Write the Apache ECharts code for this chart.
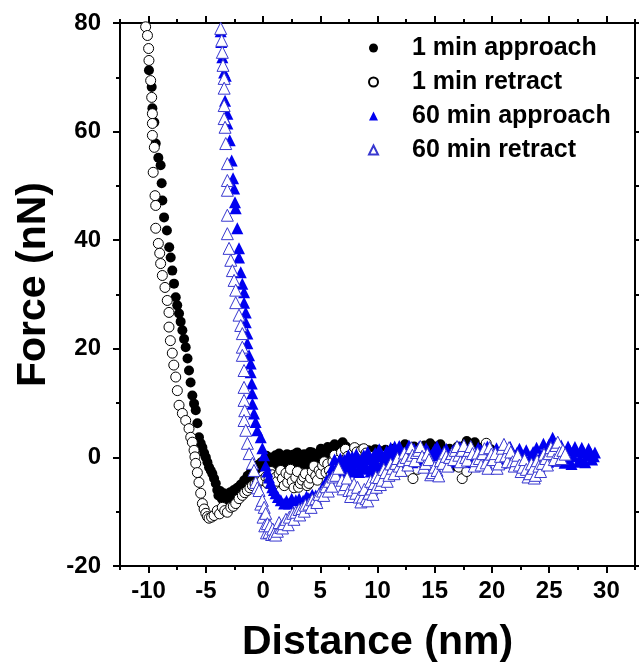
<!DOCTYPE html>
<html>
<head>
<meta charset="utf-8">
<script src="https://cdn.jsdelivr.net/npm/echarts@6/dist/echarts.min.js"></script>
<style>
  html, body { margin: 0; padding: 0; background: #fff; }
  #chart { width: 639px; height: 665px; }
</style>
</head>
<body>
<div id="chart"></div>
<script>
// series names (legend)
const seriesNames = ['1 min approach', '1 min retract', '60 min approach', '60 min retract'];

// major tick values on the x axis
const xMajorTicks = [-10, -5, 0, 5, 10, 15, 20, 25, 30];

// 1 min approach, [distance nm, force nN]
const approach1 = [
  [-9.97, 71.3], [-9.73, 68.2], [-9.67, 64.3], [-9.5, 61.7], [-9.38, 57.8], [-9.15, 55.2],
  [-8.95, 53.8], [-8.86, 50.5], [-8.8, 47.3], [-8.65, 44.2], [-8.4, 41.8], [-8.2, 38.7],
  [-8.07, 36.8], [-7.93, 34.4], [-7.78, 32.0], [-7.63, 29.5], [-7.5, 28.0], [-7.34, 26.5],
  [-7.2, 25.0], [-7.05, 23.4], [-6.9, 21.8], [-6.76, 20.3], [-6.6, 18.2], [-6.47, 16.0],
  [-6.33, 13.8], [-6.18, 11.4], [-6.03, 9.9], [-5.88, 8.7], [-5.74, 6.3], [-5.6, 3.7],
  [-5.45, 2.6], [-5.3, 1.8], [-5.15, 0.8], [-5.0, 0.0], [-4.86, -0.9], [-4.72, -1.8],
  [-4.57, -2.4], [-4.43, -3.0], [-4.28, -3.9], [-4.13, -4.8], [-4.0, -6.0], [-3.9, -7.0],
  [-3.75, -6.2], [-3.6, -7.6], [-3.45, -6.6], [-3.3, -7.8], [-3.15, -6.9], [-3.0, -7.5],
  [-2.85, -6.4], [-2.7, -7.2], [-2.55, -6.0], [-2.4, -6.8], [-2.25, -5.6], [-2.1, -6.2],
  [-1.95, -5.0], [-1.8, -5.4], [-1.65, -4.2], [-1.5, -4.6], [-1.35, -3.4], [-1.2, -3.7],
  [-1.05, -2.6], [-0.9, -2.9], [-0.75, -1.9], [-0.6, -2.2], [-0.45, -1.4], [-0.3, -1.7],
  [-0.15, -0.9], [0.0, -1.2], [0.15, -0.4], [0.3, 0.3], [0.4, -1.5], [0.5, -0.5],
  [0.65, -1.8], [0.8, 0.0], [0.9, -0.6], [1.0, -1.2], [1.1, 0.4], [1.25, -1.6], [1.4, 0.7],
  [1.5, 0.1], [1.6, -0.9], [1.7, 0.2], [1.85, -0.2], [2.0, -0.4], [2.1, 0.6], [2.2, -1.4],
  [2.3, 0.0], [2.45, -0.9], [2.6, 0.5], [2.7, -1.6], [2.86, 0.7], [2.9, -1.0], [3.0, 0.9],
  [3.1, 0.2], [3.25, -0.7], [3.4, -0.3], [3.5, -1.2], [3.6, 0.6], [3.7, 0.3], [3.85, -1.4],
  [4.0, 0.6], [4.1, 1.0], [4.2, -0.8], [4.3, 0.9], [4.45, 0.2], [4.6, 0.4], [4.7, -0.5],
  [4.8, -0.2], [4.9, 0.8], [5.05, 1.6], [5.2, 1.2], [5.35, 0.2], [5.5, 0.9], [5.65, 1.9],
  [5.8, 1.4], [5.95, 0.8], [6.1, 1.7], [6.25, 2.4], [6.4, 1.9], [6.6, 1.3], [6.8, 2.2],
  [6.95, 2.8], [7.1, 1.4], [7.25, 2.0], [7.4, 1.0], [7.55, 0.6], [7.7, 1.3], [8.0, 0.9],
  [8.3, 1.2], [8.6, 1.5], [8.9, 1.0], [9.2, 1.3], [9.5, 1.1], [9.8, 1.5], [10.1, 1.3],
  [10.4, 1.0], [10.7, 1.4], [11.0, 1.2], [11.4, 1.6], [11.8, 1.3], [12.2, 1.7], [12.4, 2.4],
  [12.6, 1.2], [13.0, 1.5], [13.2, 2.0], [13.4, 1.3], [13.8, 1.8], [14.1, 2.2], [14.4, 1.6],
  [14.6, 2.6], [14.8, 1.2], [15.0, 2.0], [15.2, 1.5], [15.5, 2.4], [15.7, 1.3], [16.0, -1.2],
  [16.1, 0.6], [16.3, 1.6], [16.5, -1.8], [16.8, 0.4], [17.0, 2.0], [17.2, 1.6], [17.4, 1.2],
  [17.6, 2.3], [17.8, 3.0], [18.0, 2.6], [18.3, 2.0], [18.5, 2.8], [18.7, 1.2], [18.9, 1.8],
  [19.1, 0.8], [19.5, 1.2], [19.9, 1.5], [20.3, 1.0]
];

// 1 min retract
const retract1 = [
  [-10.26, 79.3], [-10.1, 77.7], [-10.0, 75.3], [-9.97, 73.1], [-9.82, 69.4], [-9.73, 66.3],
  [-9.67, 63.3], [-9.67, 61.5], [-9.67, 59.3], [-9.5, 57.1], [-9.6, 52.5], [-9.44, 48.2],
  [-9.38, 46.4], [-9.38, 42.2], [-9.15, 39.4], [-9.03, 37.6], [-8.95, 35.7], [-8.8, 33.5],
  [-8.57, 31.3], [-8.37, 28.9], [-8.22, 26.7], [-8.22, 24.0], [-8.1, 21.5], [-7.93, 19.2],
  [-7.8, 17.0], [-7.63, 14.8], [-7.49, 12.3], [-7.34, 9.6], [-7.05, 8.1], [-6.76, 6.8],
  [-6.47, 5.3], [-6.32, 3.7], [-6.18, 2.8], [-6.03, 1.3], [-5.95, 0.1], [-5.88, -1.1],
  [-5.74, -2.8], [-5.6, -4.6], [-5.45, -6.6], [-5.3, -8.5], [-5.15, -9.5], [-5.0, -10.3],
  [-4.86, -10.9], [-4.72, -11.2], [-4.5, -11.0], [-4.28, -10.7], [-4.0, -9.8], [-3.8, -10.4],
  [-3.56, -9.2], [-3.35, -9.8], [-3.12, -10.1], [-2.82, -9.2], [-2.6, -9.0], [-2.39, -8.5],
  [-2.1, -7.6], [-1.81, -7.0], [-1.6, -6.5], [-1.37, -6.1], [-1.15, -5.6], [-0.93, -5.2],
  [-0.7, -4.9], [-0.5, -4.6], [-0.28, -4.4], [-0.06, -4.2], [0.25, -3.6], [0.4, -4.8],
  [0.52, -3.9], [0.7, -2.6], [0.8, -3.2], [0.95, -5.0], [1.1, -3.7], [1.25, -4.4],
  [1.4, -3.0], [1.55, -2.4], [1.69, -3.9], [1.85, -5.2], [2.0, -2.9], [2.15, -4.6],
  [2.27, -3.3], [2.4, -2.2], [2.55, -4.4], [2.7, -5.6], [2.86, -3.7], [3.0, -2.6],
  [3.1, -5.5], [3.25, -4.8], [3.4, -4.2], [3.55, -3.6], [3.7, -3.0], [3.85, -5.2],
  [4.0, -4.8], [4.15, -3.8], [4.3, -2.6], [4.45, -1.6], [4.6, -3.4], [4.75, -4.2],
  [4.9, -2.4], [5.05, -3.0], [5.2, -1.5], [5.35, -0.8], [5.5, -2.8], [5.65, -1.2],
  [5.8, -2.4], [5.95, -3.2], [6.1, -0.8], [6.25, 0.4], [6.4, -1.4], [6.55, -1.9],
  [6.7, -0.3], [6.85, 0.9], [7.0, -0.6], [7.2, 1.5], [7.4, 0.2], [7.6, -0.8], [7.8, 0.7],
  [8.0, 1.8], [8.2, 1.0], [8.4, -0.4], [8.6, 1.3], [8.8, 1.6], [9.0, 0.8], [9.4, 0.2],
  [9.8, -0.5], [10.2, -0.2], [10.6, 0.4], [11.0, -0.3], [11.5, -1.0], [12.0, -0.6],
  [12.5, -1.5], [12.8, -2.6], [13.1, -3.9], [13.5, -2.2], [13.9, -1.0], [14.3, -0.4],
  [14.8, 0.3], [15.2, -0.8], [15.7, 0.0], [16.2, -0.9], [16.6, -0.2], [17.1, -1.8],
  [17.4, -3.9], [17.8, -2.6], [18.2, -1.0], [18.6, 0.2], [19.1, 1.0], [19.5, 2.6],
  [20.0, 0.5], [20.5, -0.5], [21.0, 0.3]
];

// 60 min approach
const approach60 = [
  [-3.7, 78.5], [-3.65, 76.5], [-3.56, 73.7], [-3.4, 70.9], [-3.26, 70.3], [-3.32, 65.7],
  [-3.12, 63.3], [-3.12, 61.5], [-2.91, 58.4], [-2.74, 54.7], [-2.62, 51.4], [-2.53, 49.5],
  [-2.45, 47.0], [-2.39, 45.9], [-2.25, 42.2], [-2.1, 38.5], [-2.1, 36.8], [-1.95, 34.1],
  [-1.81, 32.0], [-1.66, 30.4], [-1.66, 28.5], [-1.51, 26.7], [-1.51, 24.9], [-1.37, 22.8],
  [-1.37, 21.0], [-1.22, 18.8], [-1.08, 17.3], [-1.08, 15.7], [-0.99, 13.6], [-0.95, 11.8],
  [-0.93, 9.9], [-0.79, 8.1], [-0.65, 6.5], [-0.5, 5.0], [-0.2, 3.7], [-0.06, 1.7],
  [0.09, 0.4], [0.23, -1.5], [0.38, -2.6], [0.52, -3.7], [0.66, -4.6], [0.81, -5.5],
  [0.95, -6.0], [1.1, -6.6], [1.3, -7.3], [1.55, -7.9], [1.84, -8.5], [2.05, -8.0],
  [2.27, -8.5], [2.5, -7.6], [2.86, -7.9], [3.15, -7.6], [3.5, -8.0], [3.8, -7.2],
  [4.0, -7.5], [4.3, -6.9], [4.6, -7.0], [4.9, -6.6], [5.2, -5.5], [5.5, -4.4],
  [5.77, -3.7], [6.06, -1.8], [6.1, -2.8], [6.25, -0.4], [6.4, -2.2], [6.5, -2.9],
  [6.64, -1.1], [6.75, -0.2], [6.9, -2.6], [7.0, -1.6], [7.1, -0.5], [7.2, -2.8],
  [7.3, -2.0], [7.45, 0.4], [7.6, -1.2], [7.7, -2.6], [7.8, 0.1], [7.9, -0.9], [8.0, -2.3],
  [8.15, 0.6], [8.3, -0.7], [8.4, -2.7], [8.5, -1.6], [8.65, -0.2], [8.8, 0.4], [8.9, -1.2],
  [9.0, -2.1], [9.15, 1.0], [9.3, -0.3], [9.4, -2.6], [9.5, -1.4], [9.65, 0.2], [9.8, 0.8],
  [9.9, -1.1], [10.0, -2.0], [10.15, 1.5], [10.3, 0.2], [10.4, -2.2], [10.5, -1.0],
  [10.65, 0.0], [10.8, 1.2], [10.9, -0.6], [11.0, -1.6], [11.15, 1.8], [11.3, 0.5],
  [11.4, -1.4], [11.5, 2.0], [11.65, 0.9], [11.8, -0.4], [11.9, 2.1], [12.0, 1.0],
  [12.15, -1.3], [12.3, -0.8], [12.45, 0.3], [12.6, 1.4], [12.75, 2.2], [12.9, 0.3],
  [13.05, -0.9], [13.2, 1.6], [13.35, 0.7], [13.5, -0.2], [13.65, 2.0], [13.8, 1.0],
  [13.95, -0.6], [14.1, 0.2], [14.25, 1.7], [14.4, 1.2], [14.55, -0.5], [14.7, 0.4],
  [14.85, 0.9], [15.0, 1.5], [15.2, 2.0], [15.4, 0.6], [15.6, -0.4], [15.8, 1.1],
  [16.0, 1.6], [16.2, 0.0], [16.4, -0.8], [16.6, 1.3], [16.8, 0.6], [17.0, 0.4],
  [17.2, 1.9], [17.4, 1.0], [17.6, -0.8], [17.8, -0.3], [18.0, 1.6], [18.2, 0.9],
  [18.4, -0.9], [18.6, 0.2], [18.8, 1.8], [19.0, 1.4], [19.2, -0.5], [19.4, 0.0],
  [19.6, 2.0], [19.8, 1.0], [20.0, 0.3], [20.2, -0.4], [20.4, 1.7], [20.6, 0.8],
  [20.8, -1.0], [21.0, -0.2], [21.2, 0.2], [21.4, 1.2], [21.6, 1.9], [21.8, 0.0],
  [22.0, -1.2], [22.2, 0.9], [22.4, 1.6], [22.6, -0.6], [22.8, 0.4], [23.0, 1.3],
  [23.2, -1.2], [23.4, 0.2], [23.6, 1.0], [23.9, 1.8], [24.1, -0.6], [24.3, 0.4],
  [24.5, 2.5], [24.7, 1.5], [24.9, -0.8], [25.0, 2.4], [25.15, 1.4], [25.3, 3.6],
  [25.45, 2.8], [25.6, 1.8], [25.75, -0.6], [25.9, 0.6], [26.05, 2.2], [26.2, 1.0],
  [26.35, -1.0], [26.5, -0.2], [26.65, 2.0], [26.8, 1.3], [26.95, -1.2], [27.1, 0.2],
  [27.25, 1.9], [27.4, 1.1], [27.55, -0.8], [27.7, -0.3], [27.85, 1.8], [28.0, 1.0],
  [28.15, -0.9], [28.3, 0.4], [28.45, 1.6], [28.6, 0.9], [28.75, -0.4], [28.9, 0.2],
  [29.0, 0.9]
];

// 60 min retract
const retract60 = [
  [-3.7, 79.0], [-3.61, 76.8], [-3.56, 74.6], [-3.5, 72.2], [-3.4, 69.8], [-3.4, 68.0],
  [-3.4, 64.8], [-3.4, 62.4], [-3.32, 60.8], [-3.26, 57.8], [-3.12, 54.1], [-3.12, 51.0],
  [-3.12, 49.2], [-3.12, 44.6], [-3.12, 41.2], [-2.97, 38.5], [-2.82, 36.3], [-2.68, 34.4],
  [-2.53, 32.6], [-2.39, 30.8], [-2.39, 28.5], [-2.1, 26.2], [-1.95, 24.3], [-1.81, 22.8],
  [-1.81, 20.3], [-1.81, 18.8], [-1.66, 16.0], [-1.66, 12.9], [-1.66, 10.5], [-1.6, 8.6],
  [-1.66, 6.8], [-1.51, 5.0], [-1.37, 2.6], [-1.22, 0.7], [-0.93, -1.1], [-0.79, -2.4],
  [-0.64, -4.6], [-0.5, -5.6], [-0.35, -6.1], [-0.2, -8.6], [-0.06, -7.9], [0.0, -11.0],
  [0.1, -9.2], [0.15, -12.6], [0.23, -10.3], [0.3, -13.9], [0.38, -12.2], [0.52, -13.8],
  [0.6, -12.6], [0.75, -14.2], [0.85, -13.2], [0.96, -14.0], [1.1, -14.3], [1.25, -13.6],
  [1.4, -12.0], [1.55, -12.9], [1.7, -13.0], [1.8, -12.2], [2.0, -11.4], [2.2, -12.4],
  [2.3, -11.0], [2.6, -10.3], [2.7, -11.4], [2.86, -10.1], [3.15, -9.6], [3.2, -10.6],
  [3.4, -9.4], [3.6, -9.9], [3.7, -8.8], [4.0, -8.6], [4.2, -9.2], [4.3, -7.8],
  [4.6, -7.6], [4.7, -8.3], [4.9, -6.8], [5.2, -6.2], [5.3, -7.0], [5.5, -5.4],
  [5.7, -6.2], [5.8, -4.4], [6.0, -5.3], [6.1, -3.6], [6.35, -3.3], [6.6, -2.0],
  [6.9, -4.2], [7.0, -5.8], [7.2, -5.0], [7.35, -3.8], [7.5, -6.1], [7.65, -7.2],
  [7.8, -6.0], [7.95, -4.9], [8.1, -6.6], [8.25, -5.5], [8.4, -7.3], [8.55, -8.2],
  [8.7, -7.3], [8.85, -5.9], [9.0, -7.6], [9.15, -8.0], [9.27, -6.6], [9.4, -4.4],
  [9.5, -5.8], [9.6, -6.8], [9.7, -4.8], [9.85, -3.6], [9.9, -5.5], [10.1, -3.7],
  [10.25, -5.0], [10.4, -4.2], [10.55, -2.2], [10.7, -2.8], [10.85, -4.4], [11.0, -3.3],
  [11.15, -1.2], [11.3, -2.0], [11.45, -3.0], [11.6, -1.1], [11.75, -0.2], [11.9, -1.6],
  [12.05, -2.4], [12.2, -0.6], [12.35, 0.8], [12.5, 0.0], [12.65, -1.4], [12.8, -0.4],
  [12.95, 1.8], [13.05, 0.4], [13.25, -0.6], [13.4, 0.9], [13.6, 1.3], [13.75, 2.0],
  [13.9, 0.2], [14.05, -1.8], [14.2, -1.1], [14.35, 0.6], [14.5, -0.4], [14.65, -3.2],
  [14.8, -2.8], [15.0, -1.8], [15.2, -2.4], [15.35, -3.4], [15.5, -0.6], [15.7, -1.1],
  [15.85, 0.8], [16.0, 0.2], [16.15, -1.6], [16.3, 0.0], [16.5, 0.7], [16.65, -0.4],
  [16.8, 1.3], [16.95, 2.0], [17.1, 0.4], [17.25, -0.8], [17.4, 1.3], [17.55, 2.2],
  [17.7, 0.0], [17.85, -0.5], [18.0, 1.3], [18.15, 2.0], [18.3, 0.7], [18.45, -1.6],
  [18.6, -0.6], [18.75, 0.8], [18.9, -0.2], [19.05, -1.4], [19.2, 0.7], [19.35, 1.6],
  [19.5, -1.0], [19.65, -2.0], [19.8, 1.8], [19.95, 0.6], [20.1, -0.4], [20.3, 0.7],
  [20.45, -2.0], [20.6, -1.2], [20.75, 0.2], [20.9, 1.7], [21.05, 2.4], [21.2, 0.3],
  [21.35, -0.8], [21.5, 1.8], [21.65, 1.0], [21.8, -0.8], [21.95, -1.6], [22.1, -0.6],
  [22.25, 0.4], [22.4, -1.4], [22.55, -2.6], [22.7, -1.8], [22.85, -0.4], [23.0, -2.2],
  [23.15, -3.6], [23.3, -3.0], [23.45, -1.2], [23.6, -2.0], [23.7, -3.8], [23.8, -3.3],
  [23.95, -0.6], [24.1, -1.6], [24.25, -2.6], [24.4, -1.1], [24.55, 0.6], [24.7, -0.2],
  [24.85, -1.4], [25.0, 0.7], [25.15, 1.8], [25.3, 1.2], [25.45, -0.4], [25.6, 2.2],
  [25.75, 2.8], [25.9, 0.9], [26.05, -0.2], [26.2, 1.3], [26.4, 0.6]
];

const FONT = "'Liberation Sans', Arial, sans-serif";
const chart = echarts.init(document.getElementById('chart'), null, { renderer: 'canvas' });

// shared pieces for the frame axes
const xRange = { min: -12.5, max: 32.5 };
const lineStyle = { color: '#000', width: 2 };

const option = {
  animation: false,
  backgroundColor: '#fff',
  grid: { left: 120, right: 4, top: 23, bottom: 99, containLabel: false, outerBoundsMode: 'none' },
  legend: {
    data: seriesNames,
    orient: 'vertical',
    left: 368,
    top: 35,
    padding: 0,
    itemWidth: 9,
    itemHeight: 9,
    itemGap: 8,
    selectedMode: false,
    textStyle: {
      fontFamily: FONT,
      fontWeight: 'bold',
      fontSize: 25,
      lineHeight: 26,
      color: '#000',
      padding: [0, 0, 0, 29]
    }
  },
  xAxis: [
    {
      type: 'value', position: 'bottom', ...xRange,
      name: 'Distance (nm)',
      nameLocation: 'middle',
      nameGap: 56,
      nameTextStyle: { fontFamily: FONT, fontWeight: 'bold', fontSize: 41, color: '#000' },
      axisLine: { show: true, onZero: false, lineStyle },
      axisTick: { show: true, length: 7, lineStyle, customValues: xMajorTicks },
      axisLabel: {
        customValues: xMajorTicks, margin: 13,
        fontFamily: FONT, fontWeight: 'bold', fontSize: 24, color: '#000'
      },
      splitLine: { show: false }
    },
    {
      // minor ticks, bottom
      type: 'value', position: 'bottom', ...xRange, interval: 2.5,
      axisLine: { show: false, onZero: false },
      axisTick: { show: true, length: 4, lineStyle },
      axisLabel: { show: false },
      splitLine: { show: false }
    },
    {
      type: 'value', position: 'top', ...xRange,
      axisLine: { show: true, onZero: false, lineStyle },
      axisTick: { show: true, length: 7, lineStyle, customValues: xMajorTicks },
      axisLabel: { show: false },
      splitLine: { show: false }
    },
    {
      // minor ticks, top
      type: 'value', position: 'top', ...xRange, interval: 2.5,
      axisLine: { show: false, onZero: false },
      axisTick: { show: true, length: 4, lineStyle },
      axisLabel: { show: false },
      splitLine: { show: false }
    }
  ],
  yAxis: [
    {
      type: 'value', position: 'left', min: -20, max: 80, interval: 20,
      name: 'Force (nN)',
      nameLocation: 'middle',
      nameGap: 66,
      nameTextStyle: {
        fontFamily: FONT, fontWeight: 'bold', fontSize: 41, color: '#000',
        padding: [0, 0, 0, 20]
      },
      axisLine: { show: true, onZero: false, lineStyle },
      axisTick: { show: true, length: 7, lineStyle },
      minorTick: { show: true, splitNumber: 2, length: 4, lineStyle },
      axisLabel: { margin: 19, fontFamily: FONT, fontWeight: 'bold', fontSize: 24, color: '#000' },
      splitLine: { show: false }
    },
    {
      type: 'value', position: 'right', min: -20, max: 80, interval: 20,
      axisLine: { show: true, onZero: false, lineStyle },
      axisTick: { show: true, length: 7, lineStyle },
      minorTick: { show: true, splitNumber: 2, length: 4, lineStyle },
      axisLabel: { show: false },
      splitLine: { show: false }
    }
  ],
  series: [
    {
      name: seriesNames[0], type: 'scatter', data: approach1,
      symbol: 'circle', symbolSize: 10,
      itemStyle: { color: '#000', opacity: 1 }
    },
    {
      name: seriesNames[1], type: 'scatter', data: retract1,
      symbol: 'circle', symbolSize: 10,
      itemStyle: { color: '#fff', borderColor: '#000', borderWidth: 1, opacity: 1 }
    },
    {
      name: seriesNames[2], type: 'scatter', data: approach60,
      symbol: 'triangle', symbolSize: 12,
      itemStyle: { color: '#0000f0', opacity: 1 }
    },
    {
      name: seriesNames[3], type: 'scatter', data: retract60,
      symbol: 'triangle', symbolSize: 12,
      itemStyle: { color: '#fff', borderColor: '#3838d0', borderWidth: 1, opacity: 1 }
    }
  ]
};

chart.setOption(option);
</script>
</body>
</html>
